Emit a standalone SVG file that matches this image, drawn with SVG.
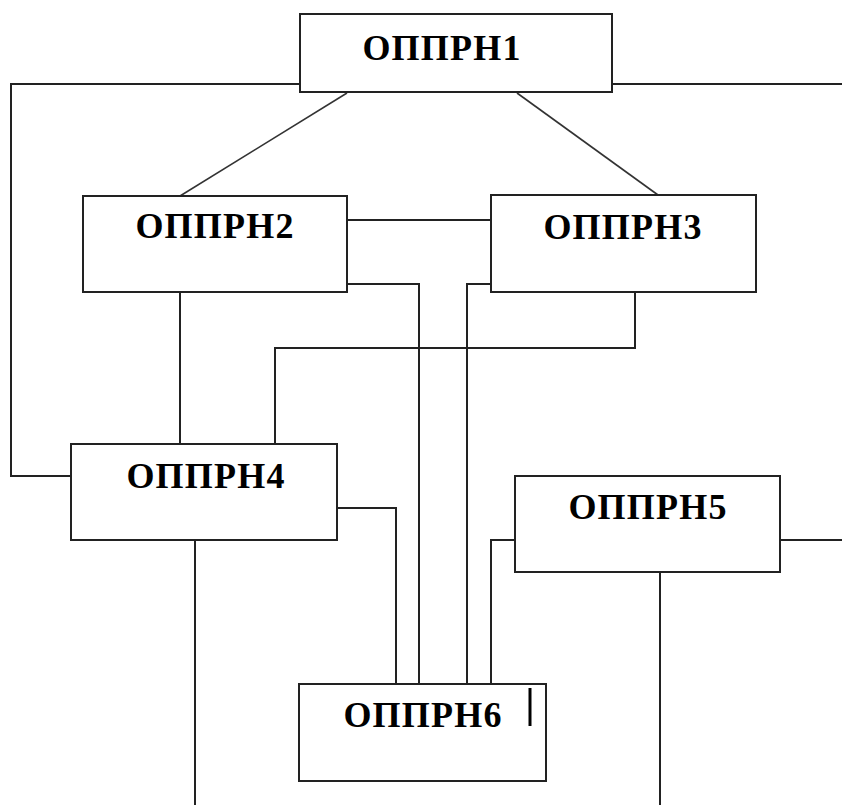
<svg xmlns="http://www.w3.org/2000/svg" width="842" height="805" viewBox="0 0 842 805">
  <style>
    .box { fill: #ffffff; stroke: #222222; stroke-width: 2; }
    .lbl { font-family: "Liberation Serif", "Times New Roman", serif; font-weight: bold; font-size: 36px; letter-spacing: 1.2px; fill: #000000; text-anchor: middle; }
    .wire { fill: none; stroke: #222222; stroke-width: 2; }
    .diag { fill: none; stroke: #333333; stroke-width: 1.6; }
  </style>
  <rect width="842" height="805" fill="#ffffff"/>

  <!-- connectors -->
  <g id="connectors">
    <!-- 1 to 2 and 1 to 3 -->
    <line class="diag" x1="347" y1="93" x2="180" y2="196"/>
    <line class="diag" x1="517" y1="93" x2="658" y2="195"/>
    <!-- 1 to 4 around the left side -->
    <polyline class="wire" points="300,84 11,84 11,476 71,476"/>
    <!-- 1 off to the right edge -->
    <line class="wire" x1="612" y1="84" x2="842" y2="84"/>
    <!-- 2 to 3 -->
    <line class="wire" x1="347" y1="220" x2="491" y2="220"/>
    <!-- 2 to 6 -->
    <polyline class="wire" points="347,284 419,284 419,684"/>
    <!-- 3 to 6 -->
    <polyline class="wire" points="491,284 467,284 467,684"/>
    <!-- 2 to 4 -->
    <line class="wire" x1="180" y1="292" x2="180" y2="444"/>
    <!-- 3 to 4 -->
    <polyline class="wire" points="635,292 635,348 275,348 275,444"/>
    <!-- 4 to 6 -->
    <polyline class="wire" points="337,508 396,508 396,684"/>
    <!-- 4 down to the bottom edge -->
    <line class="wire" x1="195" y1="540" x2="195" y2="805"/>
    <!-- 5 to 6 -->
    <polyline class="wire" points="515,540 491,540 491,684"/>
    <!-- 5 off to the right edge -->
    <line class="wire" x1="780" y1="540" x2="842" y2="540"/>
    <!-- 5 down to the bottom edge -->
    <line class="wire" x1="660" y1="572" x2="660" y2="805"/>
  </g>

  <g id="n1">
    <rect class="box" x="300" y="14" width="312" height="78"/>
    <text class="lbl" x="442" y="60">ОППРН1</text>
  </g>
  <g id="n2">
    <rect class="box" x="83" y="196" width="264" height="96"/>
    <text class="lbl" x="215" y="238">ОППРН2</text>
  </g>
  <g id="n3">
    <rect class="box" x="491" y="195" width="265" height="97"/>
    <text class="lbl" x="623" y="239">ОППРН3</text>
  </g>
  <g id="n4">
    <rect class="box" x="71" y="444" width="266" height="96"/>
    <text class="lbl" x="206" y="488">ОППРН4</text>
  </g>
  <g id="n5">
    <rect class="box" x="515" y="476" width="265" height="96"/>
    <text class="lbl" x="648" y="519">ОППРН5</text>
  </g>
  <g id="n6">
    <rect class="box" x="299" y="684" width="247" height="97"/>
    <text class="lbl" x="423" y="727">ОППРН6</text>
    <!-- text cursor mark -->
    <line x1="530" y1="688" x2="530" y2="726" stroke="#000000" stroke-width="3"/>
  </g>
</svg>
